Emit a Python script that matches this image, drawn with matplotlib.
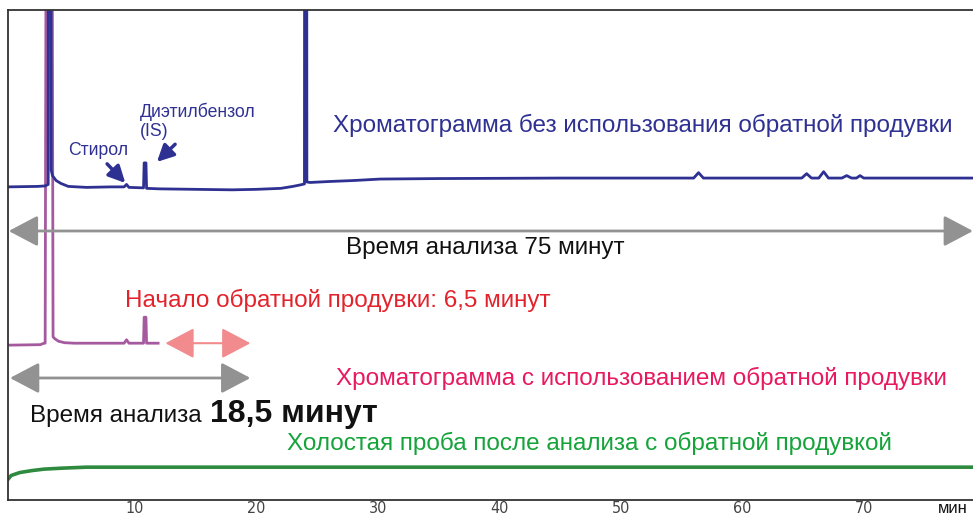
import matplotlib
matplotlib.use("Agg")
import matplotlib.pyplot as plt
from matplotlib.patches import ArrowStyle

plt.rcParams['font.family'] = ['Liberation Sans', 'DejaVu Sans']

# ---- data (time in minutes, signal in arbitrary units) ----
t_blue = [-0.5, 2.0, 2.6, 2.85, 2.95, 3.1, 3.2, 3.5, 3.9, 4.5, 6.0, 8.0, 9.1, 9.3, 9.5,
          10.7, 10.75, 10.9, 10.95, 12.0, 15.0, 18.0, 20.0, 22.0, 23.0, 23.6, 23.95,
          24.05, 24.15, 24.4, 26.0, 28.0, 30.2, 35.0, 45.0, 56.0, 56.4, 56.8,
          64.9, 65.3, 65.7, 66.3, 66.7, 67.1, 68.2, 68.6, 69.0, 69.4, 69.7, 70.0, 79.5]
s_blue = [63.9, 64.0, 64.1, 64.4, 500, 67.3, 66.2, 65.2, 64.6, 64.0, 63.8, 63.9, 63.9,
          64.4, 63.8, 63.7, 68.8, 68.8, 63.6, 63.5, 63.4, 63.3, 63.4, 63.6, 64.0, 64.3, 64.5,
          500, 64.9, 64.8, 65.0, 65.2, 65.5, 65.6, 65.7, 65.7, 66.8, 65.7,
          65.7, 66.6, 65.7, 65.7, 67.0, 65.7, 65.7, 66.2, 65.7, 65.7, 66.2, 65.7, 65.7]

t_purple = [-0.5, 2.2, 2.5, 2.6, 2.93, 3.25, 3.4, 3.7, 4.2, 5.0, 7.0, 9.1, 9.3, 9.5,
            10.7, 10.75, 10.9, 10.95, 11.9]
s_purple = [31.6, 31.7, 32.0, 32.0, 400, 33.3, 32.9, 32.4, 32.1, 32.0, 32.0, 32.0, 32.7,
            32.0, 32.0, 37.3, 37.3, 32.0, 32.0]

t_green = [-0.5, -0.2, 0.5, 1.5, 2.5, 4.0, 6.0, 10.0, 20.0, 30.0, 40.0, 50.0, 60.0, 70.0, 79.5]
s_green = [4.1, 5.0, 5.6, 6.0, 6.3, 6.5, 6.7, 6.7, 6.7, 6.7, 6.7, 6.7, 6.7, 6.7, 6.7]

x_ticks = [10, 20, 30, 40, 50, 60, 70]
x_ticklabels = ["10", "20", "30", "40", "50", "60", "70"]

run_full = (-0.4, 79.0)       # analysis time without backflush
run_bf = (-0.3, 19.5)         # analysis time with backflush
bf_window = (12.5, 19.5)      # backflush interval

BLUE = "#2e3192"
PURPLE = "#a55a9f"
GREEN = "#2e8a3e"
GRAY = "#929292"
PINK = "#f28b8d"

fig = plt.figure(figsize=(9.73, 5.17), dpi=100)
ax = fig.add_axes([8/973, 1 - 500/517, 1 - 8/973, 490/517])
ax.set_xlim(-0.46, 79.0)
ax.set_ylim(0, 100)

ax.plot(t_green, s_green, color=GREEN, lw=2.6, solid_joinstyle='round')
ax.plot(t_purple, s_purple, color=PURPLE, lw=2.0, solid_joinstyle='round')
ax.plot(t_blue, s_blue, color=BLUE, lw=2.0, solid_joinstyle='round')

ax.spines['right'].set_visible(False)
for sp in ['left', 'bottom', 'top']:
    ax.spines[sp].set_color('#333333')
    ax.spines[sp].set_linewidth(1.3)
ax.set_yticks([])
ax.set_xticks(x_ticks)
ax.set_xticklabels(x_ticklabels, family=['Liberation Sans Narrow', 'DejaVu Sans'],
                   fontstretch='condensed', fontsize=11.5, color='#444444')
ax.tick_params(axis='x', length=0, pad=0.5)
ax.text(77.3, -0.3, "мин", ha='center', va='top', fontsize=12, color='#111111',
        clip_on=False)

# double arrows
big = ArrowStyle('<|-|>', head_length=1.8, head_width=0.95)
ax.annotate('', xy=(run_full[1], 54.9), xytext=(run_full[0], 54.9),
            arrowprops=dict(arrowstyle=big, color=GRAY, lw=2, mutation_scale=10,
                            shrinkA=0, shrinkB=0))
ax.annotate('', xy=(run_bf[1], 24.9), xytext=(run_bf[0], 24.9),
            arrowprops=dict(arrowstyle=big, color=GRAY, lw=2, mutation_scale=10,
                            shrinkA=0, shrinkB=0))
ax.annotate('', xy=(bf_window[1], 32.0), xytext=(bf_window[0], 32.0),
            arrowprops=dict(arrowstyle=big, color=PINK, lw=1.5, mutation_scale=10,
                            shrinkA=0, shrinkB=0))

# peak labels
ax.text(4.48, 71.4, "Стирол", ha='left', va='center', fontsize=12.7, color=BLUE)
ax.text(10.42, 79.2, "Диэтилбензол", ha='left', va='center', fontsize=12.7, color=BLUE)
ax.text(10.42, 75.3, "(IS)", ha='left', va='center', fontsize=12.7, color=BLUE)
small = dict(arrowstyle=ArrowStyle('-|>', head_length=1.0, head_width=0.5),
             color=BLUE, lw=2.5, mutation_scale=10, shrinkA=0, shrinkB=0)
ax.annotate('', xy=(9.2, 64.7), xytext=(7.7, 68.6), arrowprops=small)
ax.annotate('', xy=(11.8, 69.0), xytext=(13.3, 72.6), arrowprops=small)

# captions
FS = 17.5
ax.text(26.3, 76.5, "Хроматограмма без использования обратной продувки",
        ha='left', va='center', fontsize=FS, color=BLUE)
ax.text(38.8, 51.4, "Время анализа 75 минут", ha='center', va='center',
        fontsize=FS, color='#111111')
ax.text(9.18, 40.8, "Начало обратной продувки: 6,5 минут", ha='left', va='center',
        fontsize=FS, color='#e3232b')
ax.text(26.56, 24.9, "Хроматограмма с использованием обратной продувки",
        ha='left', va='center', fontsize=FS, color='#e8195e')
ax.text(1.35, 16.0, "Время анализа ", ha='left', va='baseline', fontsize=FS,
        color='#111111')
ax.text(16.2, 16.0, "18,5 минут", ha='left', va='baseline', fontsize=23,
        fontweight='bold', color='#111111')
ax.text(22.5, 11.6, "Холостая проба после анализа с обратной продувкой",
        ha='left', va='center', fontsize=FS, color='#15a33a')

fig.savefig("out.png", dpi=100)
